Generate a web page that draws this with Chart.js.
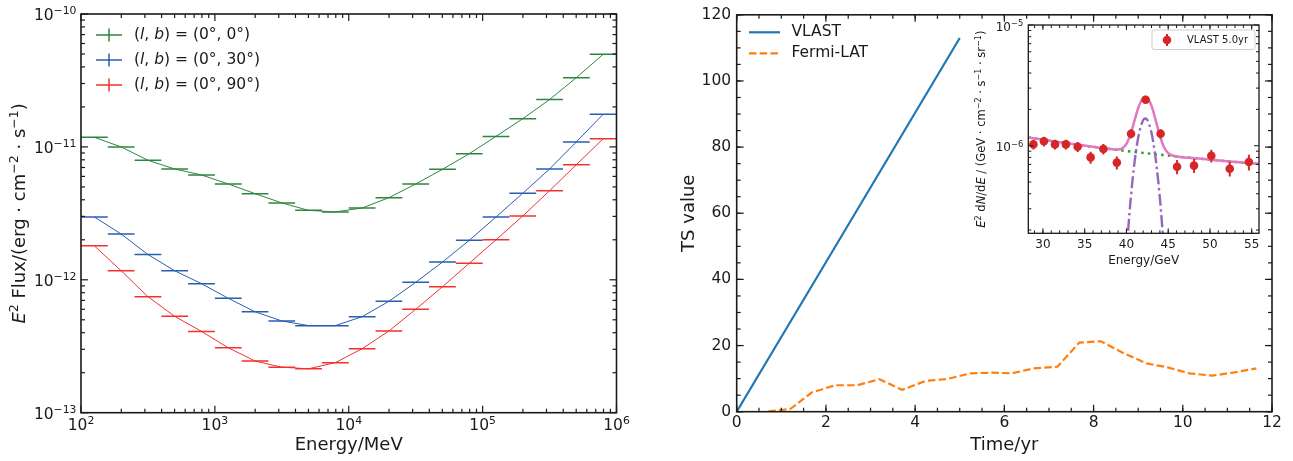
<!DOCTYPE html>
<html>
<head>
<meta charset="utf-8">
<script src="https://cdn.jsdelivr.net/npm/chart.js@4.4.1/dist/chart.umd.min.js"></script>
<style>
  body { margin: 0; background: #fff; }
  #wrap { position: relative; width: 1293px; height: 461px; overflow: hidden; background: #fff; }
  canvas { position: absolute; top: 0; }
</style>
</head>
<body>
<div id="wrap">
  <canvas id="fluxChart" width="645" height="461" style="left:0"></canvas>
  <canvas id="tsChart" width="648" height="461" style="left:645px"></canvas>
  <canvas id="lineChart" width="333" height="280" style="left:960px"></canvas>
</div>
<script>
/* left panel: sensitivity curves, 0.2 dex energy bins */
const binEdges = [1e2, 1.585e2, 2.512e2, 3.981e2, 6.310e2, 1e3, 1.585e3, 2.512e3, 3.981e3, 6.310e3, 1e4,
  1.585e4, 2.512e4, 3.981e4, 6.310e4, 1e5, 1.585e5, 2.512e5, 3.981e5, 6.310e5, 1e6];
const binCenters = [125.9, 199.5, 316.2, 501.2, 794.3, 1259, 1995, 3162, 5012, 7943,
  12589, 19953, 31623, 50119, 79433, 125893, 199526, 316228, 501187, 794328];
const flux_0_0 = [1.18e-11, 1.00e-11, 7.93e-12, 6.82e-12, 6.15e-12, 5.26e-12, 4.45e-12, 3.79e-12, 3.33e-12, 3.24e-12,
  3.47e-12, 4.15e-12, 5.26e-12, 6.78e-12, 8.89e-12, 1.20e-11, 1.63e-11, 2.27e-11, 3.32e-11, 4.97e-11];
const flux_0_30 = [2.97e-12, 2.21e-12, 1.55e-12, 1.17e-12, 9.35e-13, 7.26e-13, 5.75e-13, 4.90e-13, 4.52e-13, 4.52e-13,
  5.28e-13, 6.89e-13, 9.57e-13, 1.36e-12, 1.98e-12, 2.97e-12, 4.48e-12, 6.82e-12, 1.09e-11, 1.76e-11];
const flux_0_90 = [1.80e-12, 1.17e-12, 7.46e-13, 5.31e-13, 4.09e-13, 3.08e-13, 2.45e-13, 2.20e-13, 2.14e-13, 2.38e-13,
  3.03e-13, 4.12e-13, 6.00e-13, 8.87e-13, 1.33e-12, 2.00e-12, 3.02e-12, 4.68e-12, 7.35e-12, 1.15e-11];

/* right panel: TS vs time */
const tVlast = [0, 1, 2, 3, 4, 5];
const tsVlast = [0, 22.6, 45.2, 67.8, 90.4, 113];
const tFermi = [0.71, 1.20, 1.68, 2.21, 2.70, 3.20, 3.71, 4.23, 4.72, 5.24, 5.73, 6.16,
  6.67, 7.19, 7.68, 8.16, 8.69, 9.19, 9.66, 10.15, 10.66, 11.16, 11.65];
const tsFermi = [0.1, 0.8, 5.8, 8.0, 8.0, 9.8, 6.6, 9.3, 9.9, 11.6, 11.8, 11.6,
  13.1, 13.6, 20.9, 21.3, 17.6, 14.6, 13.4, 11.6, 10.9, 11.9, 13.1];

/* inset: line spectrum */
const lineE = [28.86, 30.12, 31.44, 32.75, 34.16, 35.71, 37.24, 38.85, 40.55, 42.30, 44.09, 46.06, 48.09, 50.16, 52.37, 54.66];
const lineFlux = [1.025e-6, 1.087e-6, 1.025e-6, 1.025e-6, 9.8e-7, 8.0e-7, 9.4e-7, 7.24e-7,
  1.256e-6, 2.40e-6, 1.256e-6, 6.70e-7, 6.84e-7, 8.26e-7, 6.45e-7, 7.33e-7];
const lineErr = [9.5e-8, 1.0e-7, 9.5e-8, 9.5e-8, 9.5e-8, 9.0e-8, 9.5e-8, 9.0e-8,
  1.1e-7, 1.6e-7, 1.1e-7, 9.0e-8, 9.0e-8, 1.0e-7, 9.0e-8, 1.1e-7];
const totalE = [28.25, 32, 36, 38, 39, 39.5, 40, 40.5, 41, 41.5, 42, 42.26, 42.5, 43, 43.5, 44, 44.5, 45, 45.5, 46, 48, 52, 55.87];
const totalFlux = [1.17e-6, 1.068e-6, 9.78e-7, 9.39e-7, 9.29e-7, 9.50e-7, 1.035e-6, 1.253e-6, 1.647e-6, 2.138e-6, 2.496e-6,
  2.548e-6, 2.496e-6, 2.135e-6, 1.628e-6, 1.212e-6, 9.72e-7, 8.67e-7, 8.30e-7, 8.15e-7, 7.89e-7, 7.44e-7, 7.05e-7];
const bgE = [28.25, 32, 36, 40, 44, 48, 52, 55.87];
const bgFlux = [1.17e-6, 1.068e-6, 9.78e-7, 9.04e-7, 8.42e-7, 7.89e-7, 7.44e-7, 7.05e-7];
const gaussE = [40, 40.5, 41, 41.5, 42, 42.26, 42.5, 43, 43.5, 44, 44.5];
const gaussFlux = [1.31e-7, 3.57e-7, 7.59e-7, 1.258e-6, 1.624e-6, 1.68e-6, 1.632e-6, 1.278e-6, 7.79e-7, 3.70e-7, 1.37e-7];

Chart.defaults.font.family = '"DejaVu Sans", sans-serif';
Chart.defaults.color = '#1a1a1a';

const INK = '#1a1a1a';
const MINUS = '\u2212';

function decadeMinors(lo, hi) {
  const out = [];
  for (let n = lo; n < hi; n++) for (let k = 2; k <= 9; k++) out.push(k * Math.pow(10, n));
  return out;
}
function steps(lo, hi, step) {
  const out = [];
  for (let v = lo; v <= hi + 1e-9; v += step) out.push(+v.toFixed(6));
  return out;
}
function xy(xs, ys) { return xs.map((x, i) => ({x: x, y: ys[i]})); }

// text from pieces: 'n' plain, 'i' italic, 's' superscript
function richText(ctx, parts, x, y, size, align, angle, base) {
  ctx.save();
  ctx.translate(x, y);
  if (angle) ctx.rotate(angle);
  ctx.textBaseline = base || 'alphabetic';
  ctx.textAlign = 'left';
  ctx.fillStyle = INK;
  const fonts = parts.map(p => (p[1] === 'i' ? 'italic ' : '') + (p[1] === 's' ? size * 0.7 : size) + 'px "DejaVu Sans"');
  let w = 0;
  parts.forEach((p, i) => { ctx.font = fonts[i]; w += ctx.measureText(p[0]).width; });
  let cx = align === 'center' ? -w / 2 : align === 'right' ? -w : 0;
  parts.forEach((p, i) => {
    ctx.font = fonts[i];
    ctx.fillText(p[0], cx, p[1] === 's' ? -0.38 * size : 0);
    cx += ctx.measureText(p[0]).width;
  });
  ctx.restore();
}
function seg(ctx, x1, y1, x2, y2) {
  ctx.beginPath(); ctx.moveTo(x1, y1); ctx.lineTo(x2, y2); ctx.stroke();
}
function powParts(v) {
  return [['10', 'n'], [String(Math.round(Math.log10(v))).replace('-', MINUS), 's']];
}

/* box with inward ticks on all four sides, plus 10^n tick labels */
const axesBox = {
  id: 'axesBox',
  afterDraw(chart, args, o) {
    const {ctx, chartArea: a} = chart;
    const xs = chart.scales.x, ys = chart.scales.y;
    ctx.save();
    ctx.strokeStyle = INK;
    ctx.lineWidth = o.tickWidth;
    const xt = (vals, len) => vals.forEach(v => {
      const p = xs.getPixelForValue(v);
      if (p < a.left - 0.5 || p > a.right + 0.5) return;
      seg(ctx, p, a.bottom, p, a.bottom - len);
      seg(ctx, p, a.top, p, a.top + len);
    });
    const yt = (vals, len) => vals.forEach(v => {
      const p = ys.getPixelForValue(v);
      if (p < a.top - 0.5 || p > a.bottom + 0.5) return;
      seg(ctx, a.left, p, a.left + len, p);
      seg(ctx, a.right, p, a.right - len, p);
    });
    xt(o.xMinor, o.minor); xt(o.xMajor, o.major);
    yt(o.yMinor, o.minor); yt(o.yMajor, o.major);
    ctx.lineWidth = o.frameWidth;
    ctx.strokeRect(a.left, a.top, a.right - a.left, a.bottom - a.top);
    ctx.restore();
    if (o.xPow) o.xMajor.forEach(v => {
      richText(ctx, powParts(v), xs.getPixelForValue(v), a.bottom + o.xPow.dy, o.xPow.size, 'center');
    });
    if (o.yPow) o.yMajor.forEach(v => {
      richText(ctx, powParts(v), a.left - o.yPow.dx, ys.getPixelForValue(v) + o.yPow.dy, o.yPow.size, 'right');
    });
  }
};

function hiddenGrid() {
  return {display: false, drawTicks: false};
}

/* ---------- left panel ---------- */
const green = '#2e8540', blue = '#2a5db0', red = '#f23030';

const fluxDecor = {
  id: 'fluxDecor',
  afterDatasetsDraw(chart) {
    const {ctx, chartArea: a, scales: {x, y}} = chart;
    ctx.save();
    ctx.beginPath(); ctx.rect(a.left, a.top, a.right - a.left, a.bottom - a.top); ctx.clip();
    ctx.lineWidth = 1.5;
    chart.data.datasets.forEach(ds => {
      ctx.strokeStyle = ds.borderColor;
      ds.data.forEach((p, i) => {
        const py = y.getPixelForValue(p.y);
        seg(ctx, x.getPixelForValue(binEdges[i]), py, x.getPixelForValue(binEdges[i + 1]), py);
      });
    });
    ctx.restore();
  },
  afterDraw(chart) {
    const {ctx, chartArea: a} = chart;
    richText(ctx, [['Energy/MeV', 'n']], (a.left + a.right) / 2, 450, 18, 'center');
    richText(ctx, [['E', 'i'], ['2', 's'], [' Flux/(erg \u00B7 cm', 'n'], [MINUS + '2', 's'],
      [' \u00B7 s', 'n'], [MINUS + '1', 's'], [')', 'n']],
      25, (a.top + a.bottom) / 2, 18, 'center', -Math.PI / 2);
    // legend
    const rows = [[green, '0\u00B0, 0\u00B0)'], [blue, '0\u00B0, 30\u00B0)'], [red, '0\u00B0, 90\u00B0)']];
    rows.forEach((r, i) => {
      const yy = 35 + i * 25;
      ctx.save();
      ctx.strokeStyle = r[0];
      ctx.lineWidth = 1.5;
      seg(ctx, 96, yy, 122, yy);
      seg(ctx, 109, yy - 6.5, 109, yy + 6.5);
      ctx.restore();
      richText(ctx, [['(', 'n'], ['l', 'i'], [', ', 'n'], ['b', 'i'], [') = (' + r[1], 'n']],
        134, yy, 15.5, 'left', 0, 'middle');
    });
  }
};

new Chart(document.getElementById('fluxChart'), {
  type: 'line',
  data: {
    datasets: [
      {data: xy(binCenters, flux_0_0), borderColor: green, borderWidth: 1, pointRadius: 0},
      {data: xy(binCenters, flux_0_30), borderColor: blue, borderWidth: 1, pointRadius: 0},
      {data: xy(binCenters, flux_0_90), borderColor: red, borderWidth: 1, pointRadius: 0}
    ]
  },
  options: {
    responsive: false,
    animation: false,
    layout: {padding: {top: 14, right: 28.5, left: 0, bottom: 0}},
    scales: {
      x: {
        type: 'logarithmic', min: 1e2, max: 1e6,
        grid: hiddenGrid(), border: {display: false},
        ticks: {display: false},
        afterFit: s => { s.height = 48.3; }
      },
      y: {
        type: 'logarithmic', min: 1e-13, max: 1e-10,
        grid: hiddenGrid(), border: {display: false},
        ticks: {display: false},
        afterFit: s => { s.width = 81; }
      }
    },
    plugins: {
      legend: {display: false},
      tooltip: {enabled: false},
      axesBox: {
        xMajor: [1e2, 1e3, 1e4, 1e5, 1e6], xMinor: decadeMinors(2, 6),
        yMajor: [1e-13, 1e-12, 1e-11, 1e-10], yMinor: decadeMinors(-13, -10),
        major: 7, minor: 4, tickWidth: 1.2, frameWidth: 1.6,
        xPow: {size: 15.5, dy: 17}, yPow: {size: 15.5, dx: 4.5, dy: 6.2}
      }
    }
  },
  plugins: [axesBox, fluxDecor]
});

/* ---------- right panel ---------- */
const tsBlue = '#1f77b4', tsOrange = '#ff7f0e';

const tsDecor = {
  id: 'tsDecor',
  afterDraw(chart) {
    const {ctx, chartArea: a} = chart;
    richText(ctx, [['Time/yr', 'n']], (a.left + a.right) / 2, 450, 18, 'center');
    richText(ctx, [['TS value', 'n']], 49, (a.top + a.bottom) / 2, 18, 'center', -Math.PI / 2);
    ctx.save();
    ctx.lineWidth = 2.2;
    ctx.strokeStyle = tsBlue;
    seg(ctx, 104, 32.3, 135, 32.3);
    ctx.strokeStyle = tsOrange;
    ctx.setLineDash([7.5, 3.2]);
    seg(ctx, 104, 53.3, 135, 53.3);
    ctx.restore();
    richText(ctx, [['VLAST', 'n']], 146.5, 32.3, 15.5, 'left', 0, 'middle');
    richText(ctx, [['Fermi-LAT', 'n']], 146.5, 53.3, 15.5, 'left', 0, 'middle');
  }
};

new Chart(document.getElementById('tsChart'), {
  type: 'line',
  data: {
    datasets: [
      {data: xy(tVlast, tsVlast), borderColor: tsBlue, borderWidth: 2.2, pointRadius: 0},
      {data: xy(tFermi, tsFermi), borderColor: tsOrange, borderWidth: 2.2, borderDash: [7.5, 3.2], pointRadius: 0}
    ]
  },
  options: {
    responsive: false,
    animation: false,
    layout: {padding: {top: 14, right: 21, left: 0, bottom: 0}},
    scales: {
      x: {
        type: 'linear', min: 0, max: 12,
        grid: hiddenGrid(), border: {display: false},
        ticks: {stepSize: 2, padding: 2, font: {size: 15.5}, color: INK, maxRotation: 0},
        afterFit: s => { s.height = 49.3; }
      },
      y: {
        type: 'linear', min: 0, max: 120,
        grid: hiddenGrid(), border: {display: false},
        ticks: {stepSize: 20, padding: 5.5, font: {size: 15.5}, color: INK},
        afterFit: s => { s.width = 91.7; }
      }
    },
    plugins: {
      legend: {display: false},
      tooltip: {enabled: false},
      axesBox: {
        xMajor: steps(0, 12, 2), xMinor: steps(0, 12, 0.5),
        yMajor: steps(0, 120, 20), yMinor: steps(0, 120, 5),
        major: 7, minor: 4, tickWidth: 1.2, frameWidth: 1.6
      }
    }
  },
  plugins: [axesBox, tsDecor]
});

/* ---------- inset ---------- */
const ptRed = '#d62728', pink = '#e377c2', dotGreen = '#2ca02c', purple = '#9467bd';

const lineDecor = {
  id: 'lineDecor',
  beforeDraw(chart) {
    const {ctx, chartArea: a} = chart;
    ctx.save();
    ctx.fillStyle = '#fff';
    ctx.fillRect(a.left, a.top, a.right - a.left, a.bottom - a.top);
    ctx.restore();
  },
  afterDatasetsDraw(chart) {
    const {ctx, chartArea: a, scales: {y}} = chart;
    const xs = chart.scales.x;
    ctx.save();
    ctx.beginPath(); ctx.rect(a.left, a.top, a.right - a.left, a.bottom - a.top); ctx.clip();
    ctx.strokeStyle = ptRed;
    ctx.lineWidth = 2;
    lineE.forEach((e, i) => {
      const px = xs.getPixelForValue(e);
      seg(ctx, px, y.getPixelForValue(lineFlux[i] - lineErr[i]), px, y.getPixelForValue(lineFlux[i] + lineErr[i]));
    });
    ctx.restore();
  },
  afterDraw(chart) {
    const {ctx, chartArea: a} = chart;
    richText(ctx, [['Energy/GeV', 'n']], (a.left + a.right) / 2, 264, 12, 'center');
    richText(ctx, [['E', 'i'], ['2', 's'], [' d', 'n'], ['N', 'i'], ['/d', 'n'], ['E', 'i'],
      [' / (GeV \u00B7 cm', 'n'], [MINUS + '2', 's'], [' \u00B7 s', 'n'], [MINUS + '1', 's'],
      [' \u00B7 sr', 'n'], [MINUS + '1', 's'], [')', 'n']],
      25, (a.top + a.bottom) / 2, 11.5, 'center', -Math.PI / 2);
    // legend box
    ctx.save();
    ctx.fillStyle = 'rgba(255,255,255,0.85)';
    ctx.strokeStyle = '#cfcfcf';
    ctx.lineWidth = 1;
    ctx.beginPath();
    ctx.roundRect(192, 30, 103, 19.5, 2);
    ctx.fill(); ctx.stroke();
    ctx.strokeStyle = ptRed; ctx.fillStyle = ptRed; ctx.lineWidth = 2;
    seg(ctx, 207, 34, 207, 46);
    ctx.beginPath(); ctx.arc(207, 40, 4.3, 0, Math.PI * 2); ctx.fill();
    ctx.restore();
    richText(ctx, [['VLAST 5.0yr', 'n']], 227, 40, 10, 'left', 0, 'middle');
  }
};

new Chart(document.getElementById('lineChart'), {
  type: 'line',
  data: {
    datasets: [
      {data: xy(lineE, lineFlux), showLine: false, pointRadius: 4.3, pointBackgroundColor: ptRed, pointBorderWidth: 0},
      {data: xy(gaussE, gaussFlux), borderColor: purple, borderWidth: 2.4, borderDash: [12, 3.5, 2.4, 3.5],
        pointRadius: 0, cubicInterpolationMode: 'monotone'},
      {data: xy(totalE, totalFlux), borderColor: pink, borderWidth: 2.5, pointRadius: 0, cubicInterpolationMode: 'monotone'},
      {data: xy(bgE, bgFlux), borderColor: dotGreen, borderWidth: 2.5, borderDash: [2.5, 4.2], pointRadius: 0}
    ]
  },
  options: {
    responsive: false,
    animation: false,
    layout: {padding: {top: 25, right: 34, left: 0, bottom: 0}},
    scales: {
      x: {
        type: 'linear', min: 28.25, max: 55.87,
        grid: hiddenGrid(), border: {display: false},
        ticks: {padding: 4, font: {size: 12}, color: INK, maxRotation: 0},
        afterBuildTicks: s => { s.ticks = [30, 35, 40, 45, 50, 55].map(v => ({value: v})); },
        afterFit: s => { s.height = 46.7; }
      },
      y: {
        type: 'logarithmic', min: 1.88e-7, max: 1e-5,
        grid: hiddenGrid(), border: {display: false},
        ticks: {display: false},
        afterFit: s => { s.width = 68.3; }
      }
    },
    plugins: {
      legend: {display: false},
      tooltip: {enabled: false},
      axesBox: {
        xMajor: steps(30, 55, 5), xMinor: steps(29, 55, 1),
        yMajor: [1e-6, 1e-5], yMinor: decadeMinors(-7, -5),
        major: 5, minor: 3, tickWidth: 1, frameWidth: 1.3,
        yPow: {size: 12, dx: 5, dy: 5.5}
      }
    }
  },
  plugins: [axesBox, lineDecor]
});
</script>
</body>
</html>
